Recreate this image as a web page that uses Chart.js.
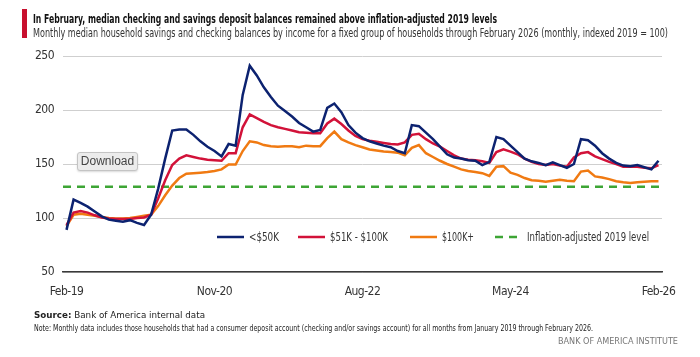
<!DOCTYPE html>
<html><head><meta charset="utf-8">
<script src="https://cdn.jsdelivr.net/npm/chart.js"></script>
<style>
html,body{margin:0;padding:0;background:#fff;}
body{width:700px;height:357px;position:relative;overflow:hidden;font-family:"Liberation Sans Narrow","DejaVu Sans Condensed","Roboto Condensed",Roboto,"Liberation Sans",sans-serif;}
canvas{position:absolute;left:0;top:0;}
.fit{position:absolute;white-space:nowrap;transform-origin:0 50%;}
#bar{position:absolute;left:22px;top:9px;width:5px;height:29px;background:#c8102e;}
#title{left:33px;top:11px;font-size:12.5px;line-height:16px;font-weight:bold;color:#111;}
#subtitle{left:33px;top:26px;font-size:11.5px;line-height:14px;color:#333;}
#source{left:34px;top:310px;font-size:8px;line-height:11px;color:#222;}
#note{left:34px;top:323px;font-size:8px;line-height:11px;color:#222;}
#brand{left:558px;top:336px;font-size:8px;line-height:11px;color:#777;}
#dl{position:absolute;left:77px;top:152px;width:59px;height:17px;border:1px solid #c4c4c4;border-radius:3px;background:#ececec;box-shadow:0 1px 2px rgba(0,0,0,0.15);font-size:12px;line-height:17px;text-align:center;color:#444;font-family:"Liberation Sans","DejaVu Sans",sans-serif;}
</style></head>
<body>
<canvas id="c" width="700" height="357"></canvas>
<div id="bar"></div>
<div id="title" class="fit" data-w="464">In February, median checking and savings deposit balances remained above inflation-adjusted 2019 levels</div>
<div id="subtitle" class="fit" data-w="635">Monthly median household savings and checking balances by income for a fixed group of households through February 2026 (monthly, indexed 2019 = 100)</div>
<div id="source" class="fit" data-w="171"><b>Source:</b> Bank of America internal data</div>
<div id="note" class="fit" data-w="559">Note: Monthly data includes those households that had a consumer deposit account (checking and/or savings account) for all months from January 2019 through February 2026.</div>
<div id="brand" class="fit" data-w="120">BANK OF AMERICA INSTITUTE</div>
<div id="dl">Download</div>
<script>
const months = [
 'Feb-19','Mar-19','Apr-19','May-19','Jun-19','Jul-19','Aug-19','Sep-19','Oct-19','Nov-19','Dec-19',
 'Jan-20','Feb-20','Mar-20','Apr-20','May-20','Jun-20','Jul-20','Aug-20','Sep-20','Oct-20','Nov-20','Dec-20',
 'Jan-21','Feb-21','Mar-21','Apr-21','May-21','Jun-21','Jul-21','Aug-21','Sep-21','Oct-21','Nov-21','Dec-21',
 'Jan-22','Feb-22','Mar-22','Apr-22','May-22','Jun-22','Jul-22','Aug-22','Sep-22','Oct-22','Nov-22','Dec-22',
 'Jan-23','Feb-23','Mar-23','Apr-23','May-23','Jun-23','Jul-23','Aug-23','Sep-23','Oct-23','Nov-23','Dec-23',
 'Jan-24','Feb-24','Mar-24','Apr-24','May-24','Jun-24','Jul-24','Aug-24','Sep-24','Oct-24','Nov-24','Dec-24',
 'Jan-25','Feb-25','Mar-25','Apr-25','May-25','Jun-25','Jul-25','Aug-25','Sep-25','Oct-25','Nov-25','Dec-25',
 'Jan-26','Feb-26'];
const tickLabels = ['Feb-19','Nov-20','Aug-22','May-24','Feb-26'];

const under50k = [
 89,117,114,110.5,106,101.5,98.5,97.5,96.5,98,95.5,
 93.5,103,127,155,181,182,182,177,171,166,162,157,
 168.5,167,214,241,232,221,212,204,199,194,188,184,
 180,181.5,202,206,198,186,179,174,171,169,167,165.5,
 162,160,186,185,179,173,166,159,156,155,153.5,153,
 149,152,175,173,167,161,155,152.5,151,149,151.5,149,
 146.5,150,173,172,167,160,155,151,148.5,148,149,147,
 145,153];
const k51to100 = [
 93.5,105,106.5,105,102.5,100.5,99.5,99,99,99,100,
 100.5,103,118,135,149,155,158,156.5,155,154,153.5,153,
 160,160,184,196,192.5,189,186,184,182.5,181,179.5,179,
 178.5,178.5,187.5,192,187,181,176,173,171.5,170.5,169.5,168.5,
 168,170,177,178,173,169,166,162,158,155,154,153.5,
 152.5,151,161,163.5,161.5,159,155,152,150,149,150,148.5,
 147.5,156,160,161,157,154.5,152,150,147.5,147.5,147.5,146.5,
 146,149];
const over100k = [
 92.5,103,104,103,102,101,100,99.5,99.5,100,101,
 102,103,111,121,130,137,141,141.5,142,142.5,143.5,145,
 149.5,149.5,162,171,170,167.5,166.5,166,166.5,166.5,165.5,167,
 166.5,166.5,174,180,173,170,167.5,165.5,163.5,162.5,161.5,161,
 160.5,158,165,167.5,160,156.5,153,150,147.5,145,143.5,142.5,
 141.5,139,147.5,148,142,140,137,135,134.5,133.5,134.5,135.5,
 134.5,134,143,144,138.5,137.5,136,134,133,132.5,133,133.5,
 134,134];
const inflationLevel = [129, 129];

const seriesNames = ['<$50K','$51K - $100K','$100K+','Inflation-adjusted 2019 level'];

const FONT = '"Liberation Sans Narrow","DejaVu Sans Condensed","Roboto Condensed",Roboto,"Liberation Sans",sans-serif';
Chart.defaults.font.family = FONT;
Chart.defaults.color = '#333';

const narrowText = {
  id: 'narrowText',
  beforeDraw(chart) { chart.ctx.letterSpacing = '-0.5px'; },
  afterDraw(chart) { chart.ctx.letterSpacing = '0px'; }
};

const legendPlugin = {
  id: 'inlineLegend',
  afterDatasetsDraw(chart) {
    const {ctx, chartArea} = chart;
    const offs = [154, 235, 347, 432];
    const textW = [30, 58, 32, 122];
    const y = chartArea.bottom - 35;
    ctx.save();
    ctx.letterSpacing = '0px';
    ctx.font = '12px ' + FONT;
    ctx.textBaseline = 'middle';
    ctx.fillStyle = '#333';
    chart.data.datasets.forEach((ds, i) => {
      const x = chartArea.left + offs[i];
      ctx.beginPath();
      ctx.strokeStyle = ds.borderColor;
      ctx.lineWidth = ds.borderWidth;
      ctx.setLineDash(ds.borderDash || []);
      ctx.moveTo(x, y); ctx.lineTo(x + 27, y);
      ctx.stroke();
      ctx.setLineDash([]);
      const w = ctx.measureText(ds.label).width;
      ctx.save();
      ctx.translate(x + 32, y + 0.5);
      ctx.scale(textW[i] / w, 1);
      ctx.fillText(ds.label, 0, 0);
      ctx.restore();
    });
    ctx.restore();
  }
};

new Chart(document.getElementById('c'), {
  type: 'line',
  data: {
    labels: months,
    datasets: [
      {label: seriesNames[0], data: under50k, borderColor: '#0c2270', borderWidth: 2.5, pointRadius: 0, tension: 0, fill: false},
      {label: seriesNames[1], data: k51to100, borderColor: '#d21239', borderWidth: 2.5, pointRadius: 0, tension: 0, fill: false},
      {label: seriesNames[2], data: over100k, borderColor: '#f07a12', borderWidth: 2.5, pointRadius: 0, tension: 0, fill: false},
      {label: seriesNames[3], data: [{x:0, y:inflationLevel[0]}, {x:1, y:inflationLevel[1]}], xAxisID: 'x2', borderColor: '#3da535', borderWidth: 2.5, borderDash: [8, 6], pointRadius: 0, tension: 0, fill: false}
    ]
  },
  options: {
    responsive: false, animation: false, devicePixelRatio: 1,
    layout: {padding: {left: 0, right: 38, top: 56, bottom: 57}},
    plugins: {legend: {display: false}, tooltip: {enabled: false}},
    scales: {
      x: {
        type: 'category', offset: true,
        grid: {display: false},
        border: {display: true, color: '#3a3a3a', width: 1.5},
        ticks: {autoSkip: false, maxRotation: 0, minRotation: 0, padding: 5, color: '#333', font: {size: 12},
          callback: function(v, i) { const l = this.getLabelForValue(v); return tickLabels.includes(l) ? l : ''; }},
        afterFit: s => { s.height = 28; }
      },
      x2: {type: 'linear', min: 0, max: 1, display: false},
      y: {
        min: 50, max: 250,
        grid: {color: '#cfcfcf', lineWidth: 1, drawTicks: false},
        border: {display: false},
        ticks: {stepSize: 50, padding: 9, color: '#333', font: {size: 12}},
        afterFit: s => { s.width = 63; }
      }
    }
  },
  plugins: [narrowText, legendPlugin]
});

document.querySelectorAll('.fit').forEach(el => {
  const w = el.getBoundingClientRect().width;
  const target = parseFloat(el.dataset.w);
  if (w > 0) el.style.transform = 'scaleX(' + (target / w) + ')';
});
</script>
</body></html>
